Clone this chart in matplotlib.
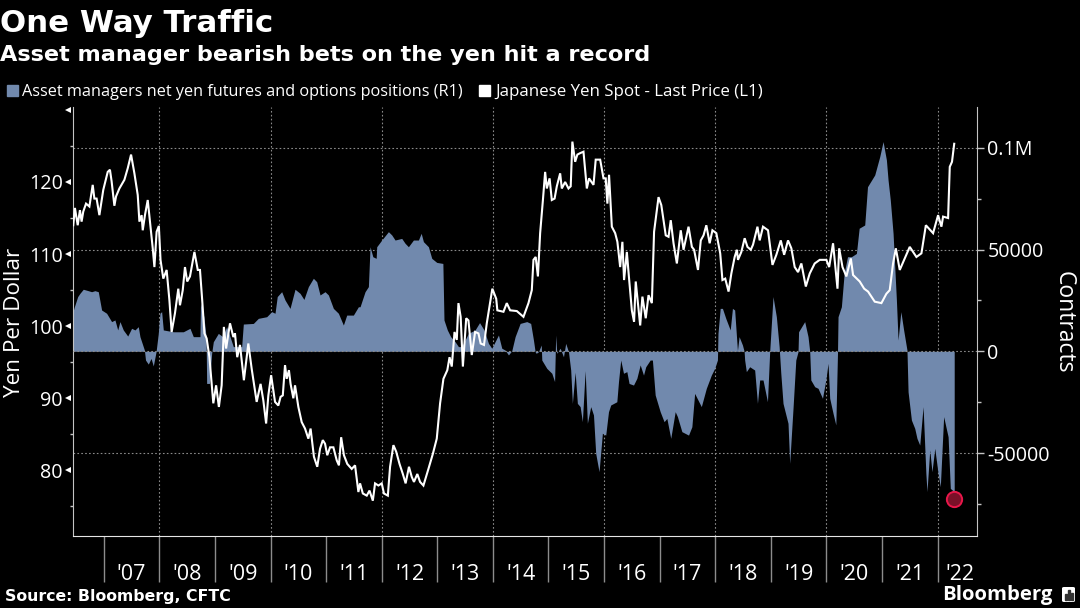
import matplotlib
matplotlib.use('Agg')
import matplotlib.pyplot as plt
from matplotlib.patches import FancyBboxPatch, Rectangle

yen_dates = [
    2006.45, 2006.48, 2006.53, 2006.57, 2006.60, 2006.63, 2006.68, 2006.74, 2006.80, 2006.83, 2006.87, 2006.92,
    2006.99, 2007.07, 2007.11, 2007.14, 2007.19, 2007.22, 2007.28, 2007.37, 2007.43, 2007.49, 2007.55, 2007.61,
    2007.64, 2007.68, 2007.70, 2007.74, 2007.79, 2007.83, 2007.88, 2007.91, 2007.95, 2007.99, 2008.02, 2008.07,
    2008.13, 2008.18, 2008.22, 2008.28, 2008.34, 2008.37, 2008.42, 2008.46, 2008.50, 2008.55, 2008.63, 2008.69,
    2008.73, 2008.77, 2008.81, 2008.85, 2008.90, 2008.97, 2009.02, 2009.07, 2009.12, 2009.16, 2009.20, 2009.27,
    2009.33, 2009.36, 2009.40, 2009.45, 2009.52, 2009.60, 2009.66, 2009.72, 2009.75, 2009.82, 2009.87, 2009.92,
    2009.96, 2010.01, 2010.08, 2010.14, 2010.18, 2010.22, 2010.26, 2010.29, 2010.33, 2010.36, 2010.41, 2010.44,
    2010.50, 2010.56, 2010.62, 2010.68, 2010.72, 2010.78, 2010.84, 2010.89, 2010.94, 2010.98, 2011.02, 2011.07,
    2011.13, 2011.19, 2011.23, 2011.27, 2011.32, 2011.38, 2011.46, 2011.52, 2011.58, 2011.61, 2011.66, 2011.73,
    2011.78, 2011.84, 2011.88, 2011.94, 2012.00, 2012.04, 2012.11, 2012.15, 2012.21, 2012.26, 2012.32, 2012.38,
    2012.43, 2012.49, 2012.54, 2012.58, 2012.64, 2012.69, 2012.75, 2012.84, 2012.92, 2012.99, 2013.05, 2013.11,
    2013.18, 2013.22, 2013.26, 2013.31, 2013.35, 2013.38, 2013.42, 2013.46, 2013.52, 2013.56, 2013.62, 2013.68,
    2013.74, 2013.78, 2013.84, 2013.89, 2013.99, 2014.06, 2014.08, 2014.19, 2014.25, 2014.31, 2014.43, 2014.55,
    2014.64, 2014.70, 2014.73, 2014.77, 2014.81, 2014.85, 2014.90, 2014.94, 2014.97, 2015.02, 2015.06, 2015.11,
    2015.15, 2015.21, 2015.24, 2015.30, 2015.36, 2015.40, 2015.43, 2015.48, 2015.52, 2015.57, 2015.63, 2015.69,
    2015.73, 2015.81, 2015.85, 2015.93, 2015.99, 2016.03, 2016.06, 2016.09, 2016.14, 2016.20, 2016.24, 2016.29,
    2016.33, 2016.36, 2016.41, 2016.45, 2016.50, 2016.54, 2016.57, 2016.65, 2016.69, 2016.75, 2016.80, 2016.86,
    2016.90, 2016.98, 2017.03, 2017.07, 2017.11, 2017.16, 2017.20, 2017.25, 2017.31, 2017.38, 2017.43, 2017.52,
    2017.58, 2017.62, 2017.69, 2017.74, 2017.79, 2017.84, 2017.90, 2017.95, 2018.02, 2018.09, 2018.13, 2018.18,
    2018.24, 2018.29, 2018.35, 2018.39, 2018.41, 2018.47, 2018.53, 2018.58, 2018.64, 2018.68, 2018.76, 2018.80,
    2018.86, 2018.95, 2019.03, 2019.10, 2019.18, 2019.24, 2019.31, 2019.37, 2019.43, 2019.49, 2019.55, 2019.63,
    2019.70, 2019.79, 2019.88, 2020.00, 2020.05, 2020.12, 2020.20, 2020.23, 2020.29, 2020.36, 2020.44, 2020.48,
    2020.60, 2020.68, 2020.75, 2020.87, 2020.99, 2021.08, 2021.14, 2021.20, 2021.25, 2021.32, 2021.41, 2021.50,
    2021.62, 2021.71, 2021.79, 2021.92, 2022.01, 2022.07, 2022.10, 2022.19, 2022.22, 2022.26, 2022.30,
]
yen_values = [
    114.0, 116.4, 114.0, 116.1, 114.5, 115.9, 117.0, 116.6, 119.6, 117.7, 117.7, 115.4,
    118.9, 121.4, 121.7, 120.1, 116.7, 118.0, 119.1, 120.3, 121.9, 123.8, 121.2, 118.2,
    114.5, 115.4, 113.3, 115.4, 117.5, 114.5, 110.8, 108.2, 113.1, 113.9, 109.2, 106.6,
    107.8, 103.6, 99.2, 101.8, 105.2, 102.9, 105.0, 108.2, 106.2, 106.9, 110.3, 107.8,
    107.8, 103.6, 99.0, 98.3, 95.7, 89.3, 91.8, 88.8, 91.8, 99.9, 96.9, 100.4,
    98.5, 99.0, 95.7, 97.4, 92.5, 97.6, 94.1, 91.1, 89.5, 92.0, 89.7, 86.5,
    90.4, 93.2, 89.5, 89.0, 90.2, 90.4, 94.6, 92.7, 93.9, 92.0, 90.0, 91.8,
    88.8, 86.7, 85.8, 84.4, 85.8, 81.9, 80.5, 83.0, 84.2, 83.7, 82.1, 83.2,
    83.2, 81.4, 80.7, 84.6, 82.1, 80.9, 80.2, 80.7, 77.0, 78.2, 76.8, 76.5,
    77.2, 75.8, 78.2, 77.9, 78.2, 76.8, 76.5, 80.5, 83.5, 82.6, 80.9, 79.5,
    78.2, 80.5, 79.1, 78.4, 79.5, 78.4, 77.9, 80.2, 82.3, 84.4, 89.3, 92.7,
    93.9, 95.7, 94.4, 99.2, 98.1, 103.2, 101.3, 94.4, 101.1, 100.8, 96.0, 99.2,
    99.0, 97.6, 97.4, 100.4, 105.2, 103.8, 102.2, 102.0, 103.2, 102.2, 102.1, 101.3,
    103.2, 105.0, 109.2, 109.6, 106.9, 112.9, 117.5, 121.4, 119.1, 120.5, 117.5, 117.7,
    119.4, 121.2, 119.1, 120.0, 119.1, 119.4, 125.6, 122.8, 123.8, 124.0, 124.2, 119.1,
    120.5, 119.6, 123.1, 123.1, 120.5, 120.5, 117.0, 121.0, 113.8, 112.9, 111.7, 108.2,
    111.7, 106.4, 110.3, 106.6, 102.2, 100.6, 106.2, 100.1, 104.1, 101.1, 104.3, 103.2,
    113.1, 117.9, 116.8, 114.7, 112.6, 112.4, 114.7, 111.5, 108.7, 113.3, 110.6, 113.8,
    111.0, 110.6, 107.8, 111.9, 112.6, 114.0, 111.5, 113.3, 112.9, 110.1, 106.4, 106.6,
    104.8, 107.3, 109.6, 110.6, 109.2, 110.3, 112.2, 111.0, 110.6, 111.3, 113.8, 111.9,
    113.8, 113.3, 108.5, 109.9, 111.9, 109.9, 111.9, 110.8, 108.2, 107.5, 108.7, 105.5,
    107.3, 108.7, 109.2, 109.2, 108.2, 111.5, 105.2, 110.8, 108.2, 106.9, 109.4, 107.1,
    106.2, 105.2, 104.8, 103.4, 103.2, 104.5, 105.0, 108.7, 110.8, 107.8, 109.4, 111.0,
    109.6, 110.1, 114.0, 112.9, 115.4, 113.8, 115.2, 115.0, 122.1, 122.8, 125.3,
]

position_dates = [
    2006.45, 2006.47, 2006.53, 2006.57, 2006.63, 2006.72, 2006.78, 2006.84, 2006.90, 2006.96, 2007.05, 2007.14,
    2007.20, 2007.25, 2007.29, 2007.35, 2007.43, 2007.50, 2007.56, 2007.62, 2007.65, 2007.73, 2007.75, 2007.80,
    2007.85, 2007.89, 2007.94, 2007.98, 2008.01, 2008.04, 2008.07, 2008.25, 2008.43, 2008.55, 2008.61, 2008.73,
    2008.74, 2008.80, 2008.84, 2008.85, 2008.90, 2008.94, 2008.97, 2009.06, 2009.14, 2009.21, 2009.33, 2009.48,
    2009.51, 2009.69, 2009.78, 2009.93, 2010.02, 2010.08, 2010.12, 2010.20, 2010.26, 2010.35, 2010.44, 2010.53,
    2010.60, 2010.68, 2010.77, 2010.83, 2010.89, 2010.98, 2011.04, 2011.13, 2011.22, 2011.31, 2011.37, 2011.49,
    2011.58, 2011.61, 2011.70, 2011.76, 2011.79, 2011.84, 2011.90, 2011.91, 2012.00, 2012.12, 2012.18, 2012.24,
    2012.36, 2012.42, 2012.48, 2012.57, 2012.66, 2012.71, 2012.75, 2012.84, 2012.90, 2012.99, 2013.10, 2013.12,
    2013.18, 2013.24, 2013.32, 2013.38, 2013.44, 2013.56, 2013.68, 2013.76, 2013.84, 2013.92, 2013.98, 2014.10,
    2014.16, 2014.22, 2014.28, 2014.34, 2014.40, 2014.49, 2014.61, 2014.68, 2014.73, 2014.76, 2014.78, 2014.82,
    2014.87, 2014.88, 2014.97, 2015.06, 2015.11, 2015.13, 2015.15, 2015.21, 2015.27, 2015.31, 2015.36, 2015.40,
    2015.43, 2015.48, 2015.52, 2015.57, 2015.61, 2015.66, 2015.70, 2015.76, 2015.81, 2015.85, 2015.91, 2015.97,
    2016.03, 2016.08, 2016.12, 2016.23, 2016.26, 2016.30, 2016.35, 2016.41, 2016.45, 2016.53, 2016.59, 2016.65,
    2016.71, 2016.75, 2016.83, 2016.87, 2016.92, 2017.01, 2017.08, 2017.13, 2017.20, 2017.28, 2017.32, 2017.40,
    2017.52, 2017.58, 2017.63, 2017.75, 2017.84, 2017.93, 2017.99, 2018.04, 2018.05, 2018.09, 2018.13, 2018.19,
    2018.27, 2018.31, 2018.35, 2018.40, 2018.43, 2018.49, 2018.52, 2018.53, 2018.56, 2018.62, 2018.71, 2018.76,
    2018.80, 2018.86, 2018.94, 2018.98, 2019.00, 2019.04, 2019.10, 2019.15, 2019.18, 2019.22, 2019.31, 2019.34,
    2019.40, 2019.45, 2019.49, 2019.50, 2019.61, 2019.67, 2019.70, 2019.72, 2019.79, 2019.85, 2019.93, 2019.99,
    2020.03, 2020.06, 2020.12, 2020.17, 2020.20, 2020.21, 2020.27, 2020.32, 2020.38, 2020.45, 2020.54, 2020.59,
    2020.69, 2020.74, 2020.87, 2020.96, 2021.02, 2021.08, 2021.11, 2021.15, 2021.20, 2021.26, 2021.29, 2021.34,
    2021.39, 2021.45, 2021.47, 2021.53, 2021.59, 2021.63, 2021.68, 2021.74, 2021.79, 2021.81, 2021.86, 2021.90,
    2021.95, 2022.01, 2022.05, 2022.11, 2022.19, 2022.23, 2022.30,
]
position_values = [
    20000, 21900, 26900, 28500, 30500, 29800, 29300, 29800, 29300, 20300, 18700, 14600,
    15400, 10500, 14600, 10500, 7500, 11300, 10500, 12100, 7200, 600, -4300, -6300,
    -3500, -7200, -200, 8800, 18700, 19500, 10500, 9600, 9600, 11300, 7200, 7200,
    23600, 17000, 7200, -15800, -15800, -1000, 4700, 8800, 7200, 12100, 2300, 2300,
    13400, 13700, 16200, 17000, 19500, 18700, 26900, 29300, 25200, 21100, 30500, 28500,
    25500, 31800, 35900, 34200, 27700, 29300, 27700, 21100, 18700, 12900, 17800, 17800,
    21900, 21900, 29300, 31800, 51400, 46500, 45700, 51400, 54700, 58800, 57200, 54700,
    55500, 53100, 51400, 54700, 54700, 58000, 53900, 51400, 45700, 43700, 43200, 15400,
    10500, 7200, 4700, 2300, 2300, 8800, 10500, 14100, 10500, 3900, 1500, 8000,
    1500, 600, -1800, 300, 7200, 13700, 14600, 13700, 5500, -200, -1000, -200,
    3100, -4300, -8400, -10800, -14900, 8000, -1000, 1500, -2700, 3900, -200, -9200,
    -25600, -10300, -25600, -27200, -34600, -9500, -35400, -27200, -31300, -50200, -59200, -40300,
    -41200, -29700, -26400, -24800, -14900, -4300, -10800, -10000, -15800, -16600, -13300, -6700,
    -11700, -7600, -4300, -4300, -21500, -29700, -34600, -33000, -42800, -29700, -32100, -39500,
    -41200, -37100, -20700, -27200, -18200, -11700, -8400, -4300, 8800, 21100, 21100, 16200,
    10500, 21100, 20300, 300, 7200, 3100, 0, -4300, -10000, -7600, -9200, -25600,
    -14100, -14100, -24800, -200, 8800, 26900, 17000, 2300, -10800, -25600, -35400, -55100,
    -28000, -4300, -200, 9600, 14600, 7200, 0, -14100, -17400, -18200, -23100, -14100,
    -5900, -23100, -30500, -36200, -1000, 17000, 21900, 38300, 46500, 46500, 48100, 60500,
    62100, 80900, 86700, 95700, 103100, 94100, 84200, 74400, 58000, 25200, 5500, 19500,
    10500, 600, -19900, -33800, -37900, -42800, -46100, -27200, -60000, -69000, -48500, -59200,
    -47700, -60000, -66600, -32100, -42000, -67400, -69000,
]

record_date = 2022.30
record_value = -72500

year_starts = list(range(2007, 2023))
year_labels = ["'07", "'08", "'09", "'10", "'11", "'12", "'13", "'14", "'15", "'16", "'17", "'18", "'19", "'20", "'21", "'22"]
year_label_pos = [y + 0.5 for y in year_starts[:-1]] + [2022.40]
grid_years = list(range(2008, 2023, 2))

left_ticks = [80, 90, 100, 110, 120]
left_minor = [75, 85, 95, 105, 115, 125]
right_ticks = [-50000, 0, 50000, 100000]
right_labels = ['-50000', '0', '50000', '0.1M']
right_minor = [-75000, -25000, 25000, 75000]

BLUE = '#7189ad'
AXIS = '#c4c4c4'
GRID = '#8a8a8a'
body_font = 'Open Sans'

W, H = 1080, 608
fig = plt.figure(figsize=(W / 100, H / 100), dpi=100, facecolor='black')
ax = fig.add_axes([72.7 / W, 1 - 536 / H, (977 - 72.7) / W, (536 - 107) / H], facecolor='black')

# positions go on the base axes so the yen line sits on top
ax.set_xlim(2006.44, 2022.71)
ax.set_ylim(-90800, 120100)
ax.fill_between(position_dates, position_values, 0, color=BLUE, linewidth=0, zorder=2)
for y in right_ticks:
    ax.axhline(y, color=GRID, linewidth=0.8, linestyle=(0, (1.5, 2)), zorder=3 if y == 0 else 1)
for x in grid_years:
    ax.axvline(x, color=GRID, linewidth=0.8, linestyle=(0, (1.5, 2)), zorder=1)

ax.set_xticks(year_starts)
ax.set_xticklabels([])
ax.set_xticks(year_label_pos, minor=True)
ax.set_xticklabels(year_labels, minor=True, fontsize=15.5, color='white', family=body_font)
ax.tick_params(axis='x', which='major', length=33, width=1, color='#8c8c8c')
ax.tick_params(axis='x', which='minor', length=0, pad=20)

ax.spines['top'].set_visible(False)
ax.spines['left'].set_color(AXIS)
ax.spines['right'].set_color(AXIS)
ax.spines['bottom'].set_color('#e6e6e6')

ax2 = ax.twinx()
# twinx moves the base axes ticks back to the left
ax.yaxis.tick_right()
ax.set_yticks(right_ticks)
ax.set_yticklabels(right_labels, fontsize=14.2, color='white', family=body_font)
ax.set_yticks(right_minor, minor=True)
ax.tick_params(axis='y', which='major', length=5, width=1, color=AXIS, pad=2.5)
ax.tick_params(axis='y', which='minor', length=3, width=1, color=AXIS)

ax2.set_ylim(70.9, 130.4)
ax2.patch.set_visible(False)
ax2.plot(yen_dates, yen_values, color='white', linewidth=1.5, solid_joinstyle='miter', zorder=5)
ax2.yaxis.tick_left()
ax2.set_yticks(left_ticks)
ax2.set_yticklabels([str(t) for t in left_ticks], fontsize=14.2, color='white', family=body_font)
ax2.set_yticks(left_minor, minor=True)
ax2.tick_params(axis='y', which='major', length=0, pad=7)
ax2.tick_params(axis='y', which='minor', length=2.5, width=1, color=AXIS)
ax2.plot([-0.0055] * (len(left_ticks) + 1), left_ticks + [130], linestyle='none', marker='<', markersize=4.5,
         color='white', markeredgewidth=0, transform=ax2.get_yaxis_transform(), clip_on=False)
for name in ['top', 'left', 'right', 'bottom']:
    ax2.spines[name].set_visible(False)

# record marker
ax.plot([record_date], [record_value], marker='o', markersize=11, markerfacecolor='#7a1028',
        markeredgecolor='#e8174a', markeredgewidth=1.4, linestyle='none', zorder=6, clip_on=False)

fig.text(0 / W, 1 - 23 / H, 'One Way Traffic', fontsize=22.2, fontweight='bold', color='white', family='DejaVu Sans', va='center')
fig.text(0 / W, 1 - 55 / H, 'Asset manager bearish bets on the yen hit a record', fontsize=16.1, fontweight='bold',
         color='white', family='DejaVu Sans', va='center')

fig.patches.append(Rectangle((7 / W, 1 - 96 / H), 11 / W, 11 / H, transform=fig.transFigure, color=BLUE))
fig.patches.append(Rectangle((479 / W, 1 - 96 / H), 11 / W, 11 / H, transform=fig.transFigure, color='white'))
fig.text(22 / W, 1 - 91.5 / H, 'Asset managers net yen futures and options positions (R1)', fontsize=11.7, color='white',
         family=body_font, va='center')
fig.text(495 / W, 1 - 91.5 / H, 'Japanese Yen Spot - Last Price (L1)', fontsize=12.15, color='white',
         family=body_font, va='center')

fig.text(15 / W, 1 - 322 / H, 'Yen Per Dollar', fontsize=16.2, color='white', family=body_font, rotation=90, ha='center', va='center')
fig.text(1064 / W, 1 - 322 / H, 'Contracts', fontsize=16.5, color='white', family=body_font, rotation=270, ha='center', va='center')

fig.text(5 / W, 1 - 596 / H, 'Source: Bloomberg, CFTC', fontsize=11.35, fontweight='bold', color='white', family='DejaVu Sans', va='center')
fig.text(1052 / W, 1 - 595 / H, 'Bloomberg', fontsize=14.6, fontweight='bold', color='white', family='Open Sans', ha='right', va='center')

# little logo box next to the wordmark
fig.patches.append(FancyBboxPatch((1062 / W, 1 - 602 / H), 13 / W, 15 / H, boxstyle='round,pad=0,rounding_size=0.002',
                                  transform=fig.transFigure, facecolor='white', edgecolor='none'))
for bx, bh in zip([1065, 1068, 1071], [6, 10, 7]):
    fig.patches.append(Rectangle((bx / W, 1 - 600 / H), 1.6 / W, bh / H, transform=fig.transFigure, color='#333333'))

fig.savefig('out.png', dpi=100, facecolor='black')
